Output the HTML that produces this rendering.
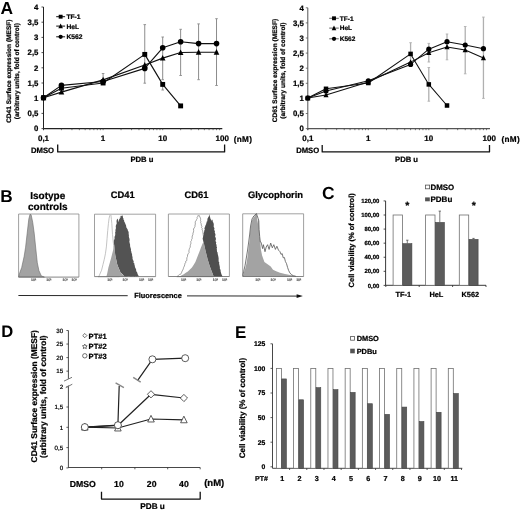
<!DOCTYPE html>
<html><head><meta charset="utf-8"><style>
html,body{margin:0;padding:0;background:#fff;}
svg{display:block;filter:grayscale(1);}
text{font-family:"Liberation Sans", sans-serif;text-rendering:geometricPrecision;}
</style></head><body>
<svg width="520" height="512" viewBox="0 0 520 512">
<rect width="520" height="512" fill="#fff"/>
<text x="0.50" y="13.81" font-size="17.4" font-weight="bold" text-anchor="start" fill="#000">A</text>
<line x1="43.50" y1="7.00" x2="43.50" y2="130.10" stroke="#222" stroke-width="1.0"/>
<line x1="43.50" y1="128.60" x2="222.30" y2="128.60" stroke="#222" stroke-width="1.2"/>
<line x1="41.50" y1="128.60" x2="43.50" y2="128.60" stroke="#222" stroke-width="0.8"/>
<text x="38.40" y="131.41" font-size="7.8" font-weight="bold" text-anchor="end" fill="#000" stroke="#000" stroke-width="0.22">0</text>
<line x1="41.50" y1="113.40" x2="43.50" y2="113.40" stroke="#222" stroke-width="0.8"/>
<text x="38.40" y="116.21" font-size="7.8" font-weight="bold" text-anchor="end" fill="#000" stroke="#000" stroke-width="0.22">0,5</text>
<line x1="41.50" y1="98.20" x2="43.50" y2="98.20" stroke="#222" stroke-width="0.8"/>
<text x="38.40" y="101.01" font-size="7.8" font-weight="bold" text-anchor="end" fill="#000" stroke="#000" stroke-width="0.22">1</text>
<line x1="41.50" y1="83.00" x2="43.50" y2="83.00" stroke="#222" stroke-width="0.8"/>
<text x="38.40" y="85.81" font-size="7.8" font-weight="bold" text-anchor="end" fill="#000" stroke="#000" stroke-width="0.22">1,5</text>
<line x1="41.50" y1="67.80" x2="43.50" y2="67.80" stroke="#222" stroke-width="0.8"/>
<text x="38.40" y="70.61" font-size="7.8" font-weight="bold" text-anchor="end" fill="#000" stroke="#000" stroke-width="0.22">2</text>
<line x1="41.50" y1="52.60" x2="43.50" y2="52.60" stroke="#222" stroke-width="0.8"/>
<text x="38.40" y="55.41" font-size="7.8" font-weight="bold" text-anchor="end" fill="#000" stroke="#000" stroke-width="0.22">2,5</text>
<line x1="41.50" y1="37.40" x2="43.50" y2="37.40" stroke="#222" stroke-width="0.8"/>
<text x="38.40" y="40.21" font-size="7.8" font-weight="bold" text-anchor="end" fill="#000" stroke="#000" stroke-width="0.22">3</text>
<line x1="41.50" y1="22.20" x2="43.50" y2="22.20" stroke="#222" stroke-width="0.8"/>
<text x="38.40" y="25.01" font-size="7.8" font-weight="bold" text-anchor="end" fill="#000" stroke="#000" stroke-width="0.22">3,5</text>
<line x1="41.50" y1="7.00" x2="43.50" y2="7.00" stroke="#222" stroke-width="0.8"/>
<text x="38.40" y="9.81" font-size="7.8" font-weight="bold" text-anchor="end" fill="#000" stroke="#000" stroke-width="0.22">4</text>
<line x1="43.50" y1="128.60" x2="43.50" y2="130.20" stroke="#444" stroke-width="0.7"/>
<line x1="61.44" y1="128.60" x2="61.44" y2="130.20" stroke="#444" stroke-width="0.7"/>
<line x1="71.94" y1="128.60" x2="71.94" y2="130.20" stroke="#444" stroke-width="0.7"/>
<line x1="79.38" y1="128.60" x2="79.38" y2="130.20" stroke="#444" stroke-width="0.7"/>
<line x1="85.16" y1="128.60" x2="85.16" y2="130.20" stroke="#444" stroke-width="0.7"/>
<line x1="89.88" y1="128.60" x2="89.88" y2="130.20" stroke="#444" stroke-width="0.7"/>
<line x1="93.87" y1="128.60" x2="93.87" y2="130.20" stroke="#444" stroke-width="0.7"/>
<line x1="97.32" y1="128.60" x2="97.32" y2="130.20" stroke="#444" stroke-width="0.7"/>
<line x1="100.37" y1="128.60" x2="100.37" y2="130.20" stroke="#444" stroke-width="0.7"/>
<line x1="103.10" y1="128.60" x2="103.10" y2="130.20" stroke="#444" stroke-width="0.7"/>
<line x1="121.04" y1="128.60" x2="121.04" y2="130.20" stroke="#444" stroke-width="0.7"/>
<line x1="131.54" y1="128.60" x2="131.54" y2="130.20" stroke="#444" stroke-width="0.7"/>
<line x1="138.98" y1="128.60" x2="138.98" y2="130.20" stroke="#444" stroke-width="0.7"/>
<line x1="144.76" y1="128.60" x2="144.76" y2="130.20" stroke="#444" stroke-width="0.7"/>
<line x1="149.48" y1="128.60" x2="149.48" y2="130.20" stroke="#444" stroke-width="0.7"/>
<line x1="153.47" y1="128.60" x2="153.47" y2="130.20" stroke="#444" stroke-width="0.7"/>
<line x1="156.92" y1="128.60" x2="156.92" y2="130.20" stroke="#444" stroke-width="0.7"/>
<line x1="159.97" y1="128.60" x2="159.97" y2="130.20" stroke="#444" stroke-width="0.7"/>
<line x1="162.70" y1="128.60" x2="162.70" y2="130.20" stroke="#444" stroke-width="0.7"/>
<line x1="180.64" y1="128.60" x2="180.64" y2="130.20" stroke="#444" stroke-width="0.7"/>
<line x1="191.14" y1="128.60" x2="191.14" y2="130.20" stroke="#444" stroke-width="0.7"/>
<line x1="198.58" y1="128.60" x2="198.58" y2="130.20" stroke="#444" stroke-width="0.7"/>
<line x1="204.36" y1="128.60" x2="204.36" y2="130.20" stroke="#444" stroke-width="0.7"/>
<line x1="209.08" y1="128.60" x2="209.08" y2="130.20" stroke="#444" stroke-width="0.7"/>
<line x1="213.07" y1="128.60" x2="213.07" y2="130.20" stroke="#444" stroke-width="0.7"/>
<line x1="216.52" y1="128.60" x2="216.52" y2="130.20" stroke="#444" stroke-width="0.7"/>
<line x1="219.57" y1="128.60" x2="219.57" y2="130.20" stroke="#444" stroke-width="0.7"/>
<line x1="103.10" y1="73.50" x2="103.10" y2="82.00" stroke="#8c8c8c" stroke-width="1.0"/>
<line x1="101.80" y1="73.50" x2="104.40" y2="73.50" stroke="#8c8c8c" stroke-width="0.9"/>
<line x1="101.80" y1="82.00" x2="104.40" y2="82.00" stroke="#8c8c8c" stroke-width="0.9"/>
<line x1="144.76" y1="24.60" x2="144.76" y2="83.20" stroke="#8c8c8c" stroke-width="1.0"/>
<line x1="143.46" y1="24.60" x2="146.06" y2="24.60" stroke="#8c8c8c" stroke-width="0.9"/>
<line x1="143.46" y1="83.20" x2="146.06" y2="83.20" stroke="#8c8c8c" stroke-width="0.9"/>
<line x1="162.70" y1="37.00" x2="162.70" y2="79.70" stroke="#8c8c8c" stroke-width="1.0"/>
<line x1="161.40" y1="37.00" x2="164.00" y2="37.00" stroke="#8c8c8c" stroke-width="0.9"/>
<line x1="161.40" y1="79.70" x2="164.00" y2="79.70" stroke="#8c8c8c" stroke-width="0.9"/>
<line x1="162.70" y1="84.00" x2="162.70" y2="90.00" stroke="#8c8c8c" stroke-width="1.0"/>
<line x1="161.40" y1="84.00" x2="164.00" y2="84.00" stroke="#8c8c8c" stroke-width="0.9"/>
<line x1="161.40" y1="90.00" x2="164.00" y2="90.00" stroke="#8c8c8c" stroke-width="0.9"/>
<line x1="180.64" y1="29.30" x2="180.64" y2="75.50" stroke="#8c8c8c" stroke-width="1.0"/>
<line x1="179.34" y1="29.30" x2="181.94" y2="29.30" stroke="#8c8c8c" stroke-width="0.9"/>
<line x1="179.34" y1="75.50" x2="181.94" y2="75.50" stroke="#8c8c8c" stroke-width="0.9"/>
<line x1="198.58" y1="23.90" x2="198.58" y2="79.70" stroke="#8c8c8c" stroke-width="1.0"/>
<line x1="197.28" y1="23.90" x2="199.88" y2="23.90" stroke="#8c8c8c" stroke-width="0.9"/>
<line x1="197.28" y1="79.70" x2="199.88" y2="79.70" stroke="#8c8c8c" stroke-width="0.9"/>
<line x1="216.52" y1="18.70" x2="216.52" y2="85.50" stroke="#8c8c8c" stroke-width="1.0"/>
<line x1="215.22" y1="18.70" x2="217.82" y2="18.70" stroke="#8c8c8c" stroke-width="0.9"/>
<line x1="215.22" y1="85.50" x2="217.82" y2="85.50" stroke="#8c8c8c" stroke-width="0.9"/>
<polyline points="43.50,97.70 61.44,88.20 103.10,83.00 144.76,54.40 162.70,84.40 180.64,105.90" stroke="#111" stroke-width="1.15" fill="none" stroke-linejoin="round"/>
<rect x="41.05" y="95.25" width="4.90" height="4.90" fill="#000" stroke="none" stroke-width="1"/>
<rect x="58.99" y="85.75" width="4.90" height="4.90" fill="#000" stroke="none" stroke-width="1"/>
<rect x="100.65" y="80.55" width="4.90" height="4.90" fill="#000" stroke="none" stroke-width="1"/>
<rect x="142.31" y="51.95" width="4.90" height="4.90" fill="#000" stroke="none" stroke-width="1"/>
<rect x="160.25" y="81.95" width="4.90" height="4.90" fill="#000" stroke="none" stroke-width="1"/>
<rect x="178.19" y="103.45" width="4.90" height="4.90" fill="#000" stroke="none" stroke-width="1"/>
<polyline points="43.50,97.70 61.44,92.10 103.10,79.90 144.76,65.00 162.70,58.10 180.64,52.50 198.58,52.20 216.52,52.20" stroke="#111" stroke-width="1.15" fill="none" stroke-linejoin="round"/>
<polygon points="43.50,94.62 46.30,100.22 40.70,100.22" fill="#000" stroke="none" stroke-width="1" stroke-linejoin="round"/>
<polygon points="61.44,89.02 64.24,94.62 58.64,94.62" fill="#000" stroke="none" stroke-width="1" stroke-linejoin="round"/>
<polygon points="103.10,76.82 105.90,82.42 100.30,82.42" fill="#000" stroke="none" stroke-width="1" stroke-linejoin="round"/>
<polygon points="144.76,61.92 147.56,67.52 141.96,67.52" fill="#000" stroke="none" stroke-width="1" stroke-linejoin="round"/>
<polygon points="162.70,55.02 165.50,60.62 159.90,60.62" fill="#000" stroke="none" stroke-width="1" stroke-linejoin="round"/>
<polygon points="180.64,49.42 183.44,55.02 177.84,55.02" fill="#000" stroke="none" stroke-width="1" stroke-linejoin="round"/>
<polygon points="198.58,49.12 201.38,54.72 195.78,54.72" fill="#000" stroke="none" stroke-width="1" stroke-linejoin="round"/>
<polygon points="216.52,49.12 219.32,54.72 213.72,54.72" fill="#000" stroke="none" stroke-width="1" stroke-linejoin="round"/>
<polyline points="43.50,97.70 61.44,85.40 103.10,81.50 144.76,68.40 162.70,47.80 180.64,41.70 198.58,43.60 216.52,43.60" stroke="#111" stroke-width="1.15" fill="none" stroke-linejoin="round"/>
<circle cx="43.50" cy="97.70" r="2.80" fill="#000" stroke="none" stroke-width="1"/>
<circle cx="61.44" cy="85.40" r="2.80" fill="#000" stroke="none" stroke-width="1"/>
<circle cx="103.10" cy="81.50" r="2.80" fill="#000" stroke="none" stroke-width="1"/>
<circle cx="144.76" cy="68.40" r="2.80" fill="#000" stroke="none" stroke-width="1"/>
<circle cx="162.70" cy="47.80" r="2.80" fill="#000" stroke="none" stroke-width="1"/>
<circle cx="180.64" cy="41.70" r="2.80" fill="#000" stroke="none" stroke-width="1"/>
<circle cx="198.58" cy="43.60" r="2.80" fill="#000" stroke="none" stroke-width="1"/>
<circle cx="216.52" cy="43.60" r="2.80" fill="#000" stroke="none" stroke-width="1"/>
<line x1="56.20" y1="16.70" x2="65.10" y2="16.70" stroke="#111" stroke-width="1"/>
<rect x="58.70" y="14.75" width="3.90" height="3.90" fill="#000" stroke="none" stroke-width="1"/>
<text x="66.40" y="19.11" font-size="6.7" font-weight="bold" text-anchor="start" fill="#000" stroke="#000" stroke-width="0.22">TF-1</text>
<line x1="56.20" y1="26.10" x2="65.10" y2="26.10" stroke="#111" stroke-width="1"/>
<polygon points="60.65,23.57 62.95,28.17 58.35,28.17" fill="#000" stroke="none" stroke-width="1" stroke-linejoin="round"/>
<text x="66.40" y="28.51" font-size="6.7" font-weight="bold" text-anchor="start" fill="#000" stroke="#000" stroke-width="0.22">HeL</text>
<line x1="56.20" y1="36.80" x2="65.10" y2="36.80" stroke="#111" stroke-width="1"/>
<circle cx="60.65" cy="36.80" r="2.15" fill="#000" stroke="none" stroke-width="1"/>
<text x="66.40" y="39.21" font-size="6.7" font-weight="bold" text-anchor="start" fill="#000" stroke="#000" stroke-width="0.22">K562</text>
<text x="11.30" y="71.20" font-size="6.55" font-weight="bold" text-anchor="middle" fill="#000" transform="rotate(-90 11.30 71.20)" stroke="#000" stroke-width="0.22">CD41 Surface expression (MESF)</text>
<text x="18.80" y="71.20" font-size="6.55" font-weight="bold" text-anchor="middle" fill="#000" transform="rotate(-90 18.80 71.20)" stroke="#000" stroke-width="0.22">(arbitrary units, fold of control)</text>
<text x="43.50" y="141.48" font-size="8.0" font-weight="bold" text-anchor="middle" fill="#000" stroke="#000" stroke-width="0.22">0,1</text>
<text x="103.10" y="141.48" font-size="8.0" font-weight="bold" text-anchor="middle" fill="#000" stroke="#000" stroke-width="0.22">1</text>
<text x="162.70" y="141.48" font-size="8.0" font-weight="bold" text-anchor="middle" fill="#000" stroke="#000" stroke-width="0.22">10</text>
<text x="222.30" y="141.48" font-size="8.0" font-weight="bold" text-anchor="middle" fill="#000" stroke="#000" stroke-width="0.22">100</text>
<text x="233.80" y="141.55" font-size="8.2" font-weight="bold" text-anchor="start" fill="#000" letter-spacing="0.3" stroke="#000" stroke-width="0.22">(nM)</text>
<text x="54.00" y="152.97" font-size="7.7" font-weight="bold" text-anchor="end" fill="#000" stroke="#000" stroke-width="0.22">DMSO</text>
<polyline points="57.70,144.60 57.70,151.90 224.60,151.90 224.60,144.60" stroke="#111" stroke-width="1.3" fill="none" stroke-linejoin="round"/>
<text x="130.40" y="161.57" font-size="7.7" font-weight="bold" text-anchor="start" fill="#000" stroke="#000" stroke-width="0.22">PDB u</text>
<line x1="307.80" y1="7.80" x2="307.80" y2="130.10" stroke="#555" stroke-width="1.0"/>
<line x1="307.80" y1="128.60" x2="490.00" y2="128.60" stroke="#555" stroke-width="1.2"/>
<line x1="305.80" y1="128.60" x2="307.80" y2="128.60" stroke="#555" stroke-width="0.8"/>
<text x="303.80" y="131.41" font-size="7.8" font-weight="bold" text-anchor="end" fill="#000" stroke="#000" stroke-width="0.22">0</text>
<line x1="305.80" y1="113.50" x2="307.80" y2="113.50" stroke="#555" stroke-width="0.8"/>
<text x="303.80" y="116.31" font-size="7.8" font-weight="bold" text-anchor="end" fill="#000" stroke="#000" stroke-width="0.22">0,5</text>
<line x1="305.80" y1="98.40" x2="307.80" y2="98.40" stroke="#555" stroke-width="0.8"/>
<text x="303.80" y="101.21" font-size="7.8" font-weight="bold" text-anchor="end" fill="#000" stroke="#000" stroke-width="0.22">1</text>
<line x1="305.80" y1="83.30" x2="307.80" y2="83.30" stroke="#555" stroke-width="0.8"/>
<text x="303.80" y="86.11" font-size="7.8" font-weight="bold" text-anchor="end" fill="#000" stroke="#000" stroke-width="0.22">1,5</text>
<line x1="305.80" y1="68.20" x2="307.80" y2="68.20" stroke="#555" stroke-width="0.8"/>
<text x="303.80" y="71.01" font-size="7.8" font-weight="bold" text-anchor="end" fill="#000" stroke="#000" stroke-width="0.22">2</text>
<line x1="305.80" y1="53.10" x2="307.80" y2="53.10" stroke="#555" stroke-width="0.8"/>
<text x="303.80" y="55.91" font-size="7.8" font-weight="bold" text-anchor="end" fill="#000" stroke="#000" stroke-width="0.22">2,5</text>
<line x1="305.80" y1="38.00" x2="307.80" y2="38.00" stroke="#555" stroke-width="0.8"/>
<text x="303.80" y="40.81" font-size="7.8" font-weight="bold" text-anchor="end" fill="#000" stroke="#000" stroke-width="0.22">3</text>
<line x1="305.80" y1="22.90" x2="307.80" y2="22.90" stroke="#555" stroke-width="0.8"/>
<text x="303.80" y="25.71" font-size="7.8" font-weight="bold" text-anchor="end" fill="#000" stroke="#000" stroke-width="0.22">3,5</text>
<line x1="305.80" y1="7.80" x2="307.80" y2="7.80" stroke="#555" stroke-width="0.8"/>
<text x="303.80" y="10.61" font-size="7.8" font-weight="bold" text-anchor="end" fill="#000" stroke="#000" stroke-width="0.22">4</text>
<line x1="307.80" y1="128.60" x2="307.80" y2="130.20" stroke="#444" stroke-width="0.7"/>
<line x1="326.01" y1="128.60" x2="326.01" y2="130.20" stroke="#444" stroke-width="0.7"/>
<line x1="336.67" y1="128.60" x2="336.67" y2="130.20" stroke="#444" stroke-width="0.7"/>
<line x1="344.22" y1="128.60" x2="344.22" y2="130.20" stroke="#444" stroke-width="0.7"/>
<line x1="350.09" y1="128.60" x2="350.09" y2="130.20" stroke="#444" stroke-width="0.7"/>
<line x1="354.88" y1="128.60" x2="354.88" y2="130.20" stroke="#444" stroke-width="0.7"/>
<line x1="358.93" y1="128.60" x2="358.93" y2="130.20" stroke="#444" stroke-width="0.7"/>
<line x1="362.44" y1="128.60" x2="362.44" y2="130.20" stroke="#444" stroke-width="0.7"/>
<line x1="365.53" y1="128.60" x2="365.53" y2="130.20" stroke="#444" stroke-width="0.7"/>
<line x1="368.30" y1="128.60" x2="368.30" y2="130.20" stroke="#444" stroke-width="0.7"/>
<line x1="386.51" y1="128.60" x2="386.51" y2="130.20" stroke="#444" stroke-width="0.7"/>
<line x1="397.17" y1="128.60" x2="397.17" y2="130.20" stroke="#444" stroke-width="0.7"/>
<line x1="404.72" y1="128.60" x2="404.72" y2="130.20" stroke="#444" stroke-width="0.7"/>
<line x1="410.59" y1="128.60" x2="410.59" y2="130.20" stroke="#444" stroke-width="0.7"/>
<line x1="415.38" y1="128.60" x2="415.38" y2="130.20" stroke="#444" stroke-width="0.7"/>
<line x1="419.43" y1="128.60" x2="419.43" y2="130.20" stroke="#444" stroke-width="0.7"/>
<line x1="422.94" y1="128.60" x2="422.94" y2="130.20" stroke="#444" stroke-width="0.7"/>
<line x1="426.03" y1="128.60" x2="426.03" y2="130.20" stroke="#444" stroke-width="0.7"/>
<line x1="428.80" y1="128.60" x2="428.80" y2="130.20" stroke="#444" stroke-width="0.7"/>
<line x1="447.01" y1="128.60" x2="447.01" y2="130.20" stroke="#444" stroke-width="0.7"/>
<line x1="457.67" y1="128.60" x2="457.67" y2="130.20" stroke="#444" stroke-width="0.7"/>
<line x1="465.22" y1="128.60" x2="465.22" y2="130.20" stroke="#444" stroke-width="0.7"/>
<line x1="471.09" y1="128.60" x2="471.09" y2="130.20" stroke="#444" stroke-width="0.7"/>
<line x1="475.88" y1="128.60" x2="475.88" y2="130.20" stroke="#444" stroke-width="0.7"/>
<line x1="479.93" y1="128.60" x2="479.93" y2="130.20" stroke="#444" stroke-width="0.7"/>
<line x1="483.44" y1="128.60" x2="483.44" y2="130.20" stroke="#444" stroke-width="0.7"/>
<line x1="486.53" y1="128.60" x2="486.53" y2="130.20" stroke="#444" stroke-width="0.7"/>
<line x1="410.59" y1="42.70" x2="410.59" y2="62.00" stroke="#b0b0b0" stroke-width="1.3"/>
<line x1="409.29" y1="42.70" x2="411.89" y2="42.70" stroke="#b0b0b0" stroke-width="0.9"/>
<line x1="409.29" y1="62.00" x2="411.89" y2="62.00" stroke="#b0b0b0" stroke-width="0.9"/>
<line x1="428.80" y1="43.40" x2="428.80" y2="62.00" stroke="#b0b0b0" stroke-width="1.3"/>
<line x1="427.50" y1="43.40" x2="430.10" y2="43.40" stroke="#b0b0b0" stroke-width="0.9"/>
<line x1="427.50" y1="62.00" x2="430.10" y2="62.00" stroke="#b0b0b0" stroke-width="0.9"/>
<line x1="428.80" y1="67.50" x2="428.80" y2="101.20" stroke="#b0b0b0" stroke-width="1.3"/>
<line x1="427.50" y1="67.50" x2="430.10" y2="67.50" stroke="#b0b0b0" stroke-width="0.9"/>
<line x1="427.50" y1="101.20" x2="430.10" y2="101.20" stroke="#b0b0b0" stroke-width="0.9"/>
<line x1="447.01" y1="34.00" x2="447.01" y2="59.80" stroke="#b0b0b0" stroke-width="1.3"/>
<line x1="445.71" y1="34.00" x2="448.31" y2="34.00" stroke="#b0b0b0" stroke-width="0.9"/>
<line x1="445.71" y1="59.80" x2="448.31" y2="59.80" stroke="#b0b0b0" stroke-width="0.9"/>
<line x1="465.22" y1="26.50" x2="465.22" y2="73.80" stroke="#b0b0b0" stroke-width="1.3"/>
<line x1="463.92" y1="26.50" x2="466.52" y2="26.50" stroke="#b0b0b0" stroke-width="0.9"/>
<line x1="463.92" y1="73.80" x2="466.52" y2="73.80" stroke="#b0b0b0" stroke-width="0.9"/>
<line x1="483.44" y1="17.10" x2="483.44" y2="98.40" stroke="#b0b0b0" stroke-width="1.3"/>
<line x1="482.14" y1="17.10" x2="484.74" y2="17.10" stroke="#b0b0b0" stroke-width="0.9"/>
<line x1="482.14" y1="98.40" x2="484.74" y2="98.40" stroke="#b0b0b0" stroke-width="0.9"/>
<polyline points="307.80,98.00 326.01,88.80 368.30,83.00 410.59,53.90 428.80,84.40 447.01,105.50" stroke="#111" stroke-width="1.05" fill="none" stroke-linejoin="round"/>
<rect x="305.55" y="95.75" width="4.51" height="4.51" fill="#000" stroke="none" stroke-width="1"/>
<rect x="323.76" y="86.55" width="4.51" height="4.51" fill="#000" stroke="none" stroke-width="1"/>
<rect x="366.05" y="80.75" width="4.51" height="4.51" fill="#000" stroke="none" stroke-width="1"/>
<rect x="408.33" y="51.65" width="4.51" height="4.51" fill="#000" stroke="none" stroke-width="1"/>
<rect x="426.55" y="82.15" width="4.51" height="4.51" fill="#000" stroke="none" stroke-width="1"/>
<rect x="444.76" y="103.25" width="4.51" height="4.51" fill="#000" stroke="none" stroke-width="1"/>
<polyline points="307.80,98.00 326.01,95.00 368.30,82.00 410.59,62.10 428.80,52.70 447.01,46.90 465.22,49.90 483.44,57.90" stroke="#111" stroke-width="1.05" fill="none" stroke-linejoin="round"/>
<polygon points="307.80,95.17 310.38,100.32 305.22,100.32" fill="#000" stroke="none" stroke-width="1" stroke-linejoin="round"/>
<polygon points="326.01,92.17 328.59,97.32 323.44,97.32" fill="#000" stroke="none" stroke-width="1" stroke-linejoin="round"/>
<polygon points="368.30,79.17 370.88,84.32 365.72,84.32" fill="#000" stroke="none" stroke-width="1" stroke-linejoin="round"/>
<polygon points="410.59,59.27 413.16,64.42 408.01,64.42" fill="#000" stroke="none" stroke-width="1" stroke-linejoin="round"/>
<polygon points="428.80,49.87 431.38,55.02 426.22,55.02" fill="#000" stroke="none" stroke-width="1" stroke-linejoin="round"/>
<polygon points="447.01,44.07 449.59,49.22 444.44,49.22" fill="#000" stroke="none" stroke-width="1" stroke-linejoin="round"/>
<polygon points="465.22,47.07 467.80,52.22 462.65,52.22" fill="#000" stroke="none" stroke-width="1" stroke-linejoin="round"/>
<polygon points="483.44,55.07 486.01,60.22 480.86,60.22" fill="#000" stroke="none" stroke-width="1" stroke-linejoin="round"/>
<polyline points="307.80,98.00 326.01,91.00 368.30,80.80 410.59,64.40 428.80,49.20 447.01,41.70 465.22,45.00 483.44,48.70" stroke="#111" stroke-width="1.05" fill="none" stroke-linejoin="round"/>
<circle cx="307.80" cy="98.00" r="2.58" fill="#000" stroke="none" stroke-width="1"/>
<circle cx="326.01" cy="91.00" r="2.58" fill="#000" stroke="none" stroke-width="1"/>
<circle cx="368.30" cy="80.80" r="2.58" fill="#000" stroke="none" stroke-width="1"/>
<circle cx="410.59" cy="64.40" r="2.58" fill="#000" stroke="none" stroke-width="1"/>
<circle cx="428.80" cy="49.20" r="2.58" fill="#000" stroke="none" stroke-width="1"/>
<circle cx="447.01" cy="41.70" r="2.58" fill="#000" stroke="none" stroke-width="1"/>
<circle cx="465.22" cy="45.00" r="2.58" fill="#000" stroke="none" stroke-width="1"/>
<circle cx="483.44" cy="48.70" r="2.58" fill="#000" stroke="none" stroke-width="1"/>
<line x1="329.20" y1="18.30" x2="338.80" y2="18.30" stroke="#666" stroke-width="1"/>
<rect x="332.05" y="16.35" width="3.90" height="3.90" fill="#000" stroke="none" stroke-width="1"/>
<text x="339.80" y="20.64" font-size="6.5" font-weight="bold" text-anchor="start" fill="#000" stroke="#000" stroke-width="0.22">TF-1</text>
<line x1="329.20" y1="28.10" x2="338.80" y2="28.10" stroke="#666" stroke-width="1"/>
<polygon points="334.00,25.57 336.30,30.17 331.70,30.17" fill="#000" stroke="none" stroke-width="1" stroke-linejoin="round"/>
<text x="339.80" y="30.44" font-size="6.5" font-weight="bold" text-anchor="start" fill="#000" stroke="#000" stroke-width="0.22">HeL</text>
<line x1="329.20" y1="38.80" x2="338.80" y2="38.80" stroke="#666" stroke-width="1"/>
<circle cx="334.00" cy="38.80" r="2.15" fill="#000" stroke="none" stroke-width="1"/>
<text x="339.80" y="41.14" font-size="6.5" font-weight="bold" text-anchor="start" fill="#000" stroke="#000" stroke-width="0.22">K562</text>
<text x="277.00" y="70.60" font-size="6.55" font-weight="bold" text-anchor="middle" fill="#000" transform="rotate(-90 277.00 70.60)" stroke="#000" stroke-width="0.22">CD61 Surface expression (MESF)</text>
<text x="284.90" y="70.60" font-size="6.55" font-weight="bold" text-anchor="middle" fill="#000" transform="rotate(-90 284.90 70.60)" stroke="#000" stroke-width="0.22">(arbitrary units, fold of control)</text>
<text x="307.80" y="141.48" font-size="8.0" font-weight="bold" text-anchor="middle" fill="#000" stroke="#000" stroke-width="0.22">0,1</text>
<text x="368.30" y="141.48" font-size="8.0" font-weight="bold" text-anchor="middle" fill="#000" stroke="#000" stroke-width="0.22">1</text>
<text x="428.80" y="141.48" font-size="8.0" font-weight="bold" text-anchor="middle" fill="#000" stroke="#000" stroke-width="0.22">10</text>
<text x="489.30" y="141.48" font-size="8.0" font-weight="bold" text-anchor="middle" fill="#000" stroke="#000" stroke-width="0.22">100</text>
<text x="501.50" y="141.55" font-size="8.2" font-weight="bold" text-anchor="start" fill="#000" letter-spacing="0.3" stroke="#000" stroke-width="0.22">(nM)</text>
<text x="319.20" y="152.97" font-size="7.7" font-weight="bold" text-anchor="end" fill="#000" stroke="#000" stroke-width="0.22">DMSO</text>
<polyline points="322.20,145.00 322.20,151.90 489.50,151.90 489.50,145.00" stroke="#111" stroke-width="1.3" fill="none" stroke-linejoin="round"/>
<text x="395.00" y="161.67" font-size="7.7" font-weight="bold" text-anchor="start" fill="#000" stroke="#000" stroke-width="0.22">PDB u</text>
<text x="0.30" y="201.69" font-size="17.2" font-weight="bold" text-anchor="start" fill="#000">B</text>
<line x1="18.60" y1="214.00" x2="78.90" y2="214.00" stroke="#8a8a8a" stroke-width="0.8"/>
<line x1="18.60" y1="214.00" x2="18.60" y2="277.10" stroke="#888" stroke-width="0.8"/>
<line x1="78.90" y1="214.00" x2="78.90" y2="277.10" stroke="#888" stroke-width="0.8"/>
<text x="33.68" y="281.10" font-size="3.6" font-weight="normal" text-anchor="middle" fill="#555" stroke="#555" stroke-width="0.22">10¹</text>
<text x="48.75" y="281.10" font-size="3.6" font-weight="normal" text-anchor="middle" fill="#555" stroke="#555" stroke-width="0.22">10¹</text>
<text x="65.03" y="281.10" font-size="3.6" font-weight="normal" text-anchor="middle" fill="#555" stroke="#555" stroke-width="0.22">10¹</text>
<text x="74.08" y="281.10" font-size="3.6" font-weight="normal" text-anchor="middle" fill="#555" stroke="#555" stroke-width="0.22">10¹</text>
<line x1="94.50" y1="214.20" x2="155.60" y2="214.20" stroke="#8a8a8a" stroke-width="0.8"/>
<line x1="94.50" y1="214.20" x2="94.50" y2="276.60" stroke="#888" stroke-width="0.8"/>
<line x1="155.60" y1="214.20" x2="155.60" y2="276.60" stroke="#888" stroke-width="0.8"/>
<text x="109.78" y="280.60" font-size="3.6" font-weight="normal" text-anchor="middle" fill="#555" stroke="#555" stroke-width="0.22">10¹</text>
<text x="125.05" y="280.60" font-size="3.6" font-weight="normal" text-anchor="middle" fill="#555" stroke="#555" stroke-width="0.22">10¹</text>
<text x="141.55" y="280.60" font-size="3.6" font-weight="normal" text-anchor="middle" fill="#555" stroke="#555" stroke-width="0.22">10¹</text>
<text x="150.71" y="280.60" font-size="3.6" font-weight="normal" text-anchor="middle" fill="#555" stroke="#555" stroke-width="0.22">10¹</text>
<line x1="168.40" y1="214.00" x2="229.40" y2="214.00" stroke="#8a8a8a" stroke-width="0.8"/>
<line x1="168.40" y1="214.00" x2="168.40" y2="276.50" stroke="#888" stroke-width="0.8"/>
<line x1="229.40" y1="214.00" x2="229.40" y2="276.50" stroke="#888" stroke-width="0.8"/>
<text x="183.65" y="280.50" font-size="3.6" font-weight="normal" text-anchor="middle" fill="#555" stroke="#555" stroke-width="0.22">10¹</text>
<text x="198.90" y="280.50" font-size="3.6" font-weight="normal" text-anchor="middle" fill="#555" stroke="#555" stroke-width="0.22">10¹</text>
<text x="215.37" y="280.50" font-size="3.6" font-weight="normal" text-anchor="middle" fill="#555" stroke="#555" stroke-width="0.22">10¹</text>
<text x="224.52" y="280.50" font-size="3.6" font-weight="normal" text-anchor="middle" fill="#555" stroke="#555" stroke-width="0.22">10¹</text>
<line x1="242.70" y1="213.80" x2="303.60" y2="213.80" stroke="#8a8a8a" stroke-width="0.8"/>
<line x1="242.70" y1="213.80" x2="242.70" y2="276.50" stroke="#888" stroke-width="0.8"/>
<line x1="303.60" y1="213.80" x2="303.60" y2="276.50" stroke="#888" stroke-width="0.8"/>
<text x="257.93" y="280.50" font-size="3.6" font-weight="normal" text-anchor="middle" fill="#555" stroke="#555" stroke-width="0.22">10¹</text>
<text x="273.15" y="280.50" font-size="3.6" font-weight="normal" text-anchor="middle" fill="#555" stroke="#555" stroke-width="0.22">10¹</text>
<text x="289.59" y="280.50" font-size="3.6" font-weight="normal" text-anchor="middle" fill="#555" stroke="#555" stroke-width="0.22">10¹</text>
<text x="298.73" y="280.50" font-size="3.6" font-weight="normal" text-anchor="middle" fill="#555" stroke="#555" stroke-width="0.22">10¹</text>
<text x="47.80" y="198.80" font-size="10" font-weight="bold" text-anchor="middle" fill="#000" stroke="#000" stroke-width="0.22">Isotype</text>
<text x="47.80" y="209.70" font-size="10" font-weight="bold" text-anchor="middle" fill="#000" stroke="#000" stroke-width="0.22">controls</text>
<text x="122.80" y="198.48" font-size="9.4" font-weight="bold" text-anchor="middle" fill="#000" stroke="#000" stroke-width="0.22">CD41</text>
<text x="196.40" y="198.48" font-size="9.4" font-weight="bold" text-anchor="middle" fill="#000" stroke="#000" stroke-width="0.22">CD61</text>
<text x="275.50" y="198.48" font-size="9.4" font-weight="bold" text-anchor="middle" fill="#000" stroke="#000" stroke-width="0.22">Glycophorin</text>
<polygon points="18.60,277.10 19.40,273.80 21.70,267.50 24.10,256.60 25.60,247.20 27.20,233.10 28.80,219.10 30.00,214.30 31.10,214.70 32.70,222.20 34.20,233.10 35.80,248.80 37.30,262.80 38.90,270.60 41.30,275.90 44.40,277.10" fill="#a3a3a3" stroke="#6a6a6a" stroke-width="0.6" stroke-linejoin="round"/>
<polygon points="98.16,276.76 98.84,276.48 101.58,270.19 102.94,264.72 104.31,259.25 105.41,253.78 106.36,246.94 107.05,238.73 107.73,230.52 108.42,223.68 109.10,218.21 109.78,215.47 110.19,214.51 110.88,214.79 111.43,219.58 111.84,223.68 112.52,234.62 113.61,245.57 114.57,255.14 115.94,264.72 117.99,272.93 119.36,276.76" fill="#fff" stroke="#b5b5b5" stroke-width="0.8" stroke-linejoin="round"/>
<polygon points="113.89,242.83 113.88,241.67 113.88,240.52 114.30,239.41 114.66,238.24 114.44,236.95 115.04,235.83 115.26,234.62 115.26,233.47 115.13,232.31 115.60,231.20 115.34,230.03 115.77,228.92 115.94,227.78 115.74,226.65 115.89,225.55 116.29,224.49 116.75,223.44 116.62,222.31 116.50,221.07 116.75,219.89 117.24,218.74 117.31,217.52 117.31,218.66 117.99,219.58 118.20,220.96 118.54,222.31 118.73,220.93 119.09,219.58 119.79,218.67 119.77,217.52 120.45,218.21 120.37,216.77 121.00,215.47 121.69,216.16 122.37,214.51 122.27,215.57 122.90,216.49 122.92,217.52 123.47,218.48 123.46,219.58 124.16,220.49 124.28,221.63 124.83,222.59 125.52,224.36 126.00,225.34 126.20,226.42 126.38,227.54 127.02,228.47 127.67,229.40 127.84,230.52 128.66,231.89 128.65,232.99 128.66,234.08 128.93,235.17 128.84,236.27 128.94,237.36 129.42,238.41 129.56,239.50 129.58,240.61 129.34,241.76 129.62,242.83 129.85,243.85 130.11,244.86 130.07,245.92 130.30,246.94 130.61,248.12 131.01,249.29 130.89,250.58 131.40,251.72 131.48,252.95 132.08,254.08 132.06,255.33 132.36,256.51 132.58,257.54 132.54,258.63 132.90,259.63 133.31,260.62 133.75,261.60 133.49,262.77 134.43,263.61 134.41,264.72 134.83,265.84 134.94,267.06 135.50,268.14 136.09,269.20 136.15,270.42 136.46,271.56 137.34,272.64 137.55,274.02 138.51,275.66 139.61,276.76 138.55,276.62 137.50,276.55 136.44,276.70 135.38,276.46 134.33,276.91 133.27,276.60 132.22,276.68 131.16,276.69 130.11,276.79 129.05,276.49 128.00,276.40 126.94,276.78 125.89,276.63 124.83,276.76 123.77,276.25 123.30,275.11 122.45,274.37 121.82,273.41 120.73,272.93 117.31,264.72 115.26,255.14" fill="#535353" stroke="none" stroke-width="1" stroke-linejoin="round"/>
<polygon points="106.36,276.76 107.32,272.93 108.42,267.46 109.78,262.67 111.15,257.88 112.52,252.41 113.61,248.30 114.16,244.20 115.26,255.14 117.31,264.72 120.73,272.93 124.83,276.76" fill="#a3a3a3" stroke="none" stroke-width="1" stroke-linejoin="round"/>
<polygon points="176.93,276.68 178.57,275.32 179.47,274.49 180.66,274.23 181.26,273.23 181.76,272.18 182.09,271.08 182.71,270.13 183.31,268.80 183.67,267.39 184.36,266.08 184.76,264.66 184.85,263.39 185.86,262.61 185.61,261.31 186.89,260.44 186.81,259.19 186.88,257.76 187.50,256.46 187.53,255.02 188.18,253.73 189.10,252.51 188.86,250.99 189.17,249.62 189.55,248.26 190.28,247.14 190.23,245.80 190.43,244.79 190.85,243.83 190.91,242.80 190.73,241.57 191.53,240.55 191.60,239.38 192.26,238.33 192.08,237.11 192.28,235.96 192.90,234.67 192.96,233.23 193.50,231.91 193.65,230.50 193.48,229.00 194.33,227.76 194.97,226.47 195.01,225.03 195.36,224.03 195.26,222.93 195.18,221.83 195.97,220.93 196.52,219.57 197.21,218.65 197.06,217.52 197.61,216.56 198.16,215.47 198.70,216.15 199.11,215.47 199.80,216.83 200.48,218.20 200.65,219.33 200.49,220.51 200.89,221.62 200.58,222.70 201.16,223.66 201.25,225.09 201.85,226.40 201.54,227.58 202.35,228.56 202.06,229.74 202.68,230.76 202.80,231.86 203.62,237.33 204.17,242.80 205.95,250.99 207.99,259.19 210.73,267.39 213.46,274.23 213.83,276.68" fill="#fff" stroke="#8c8c8c" stroke-width="0.8" stroke-linejoin="round"/>
<polygon points="202.62,238.70 202.91,237.62 203.20,236.54 203.43,235.46 203.74,234.38 203.58,233.23 204.11,231.91 204.26,230.50 204.82,229.42 204.35,228.15 204.95,227.08 205.26,226.05 205.63,225.03 206.24,224.10 206.29,223.01 206.76,222.04 206.72,220.93 207.27,222.30 207.06,221.24 207.45,220.25 207.37,219.20 207.68,218.20 208.63,216.83 209.18,215.47 209.45,214.10 209.69,215.47 210.00,216.83 210.22,217.87 210.55,218.88 211.20,219.81 211.09,220.93 211.64,220.25 212.19,219.57 212.68,220.53 212.73,221.62 213.14,222.30 213.66,223.62 213.83,225.03 213.63,226.17 213.89,227.24 214.51,228.28 214.14,229.43 214.51,230.50 214.96,231.60 214.74,232.79 215.28,233.87 215.54,235.00 215.01,236.23 215.47,237.33 215.83,238.32 215.97,239.35 215.49,240.46 215.72,241.47 216.32,242.43 215.92,243.53 216.39,244.51 216.56,245.53 216.56,246.57 217.07,247.55 216.62,248.65 216.96,249.65 216.87,250.70 217.07,251.72 217.68,252.68 217.65,253.73 217.92,254.85 218.24,255.97 218.41,257.10 218.64,258.23 218.61,259.40 218.61,260.56 218.72,261.67 219.38,262.68 219.04,263.86 219.50,264.91 219.57,266.03 219.93,267.09 219.75,268.26 220.24,269.30 220.59,270.37 220.66,271.49 221.02,272.72 221.34,273.95 222.03,275.59 222.71,276.68 213.83,276.68 211.78,271.49 209.73,266.03 207.68,259.19 205.63,250.99 203.58,242.11" fill="#4f4f4f" stroke="none" stroke-width="1" stroke-linejoin="round"/>
<polygon points="179.66,276.68 181.71,275.32 183.76,274.23 185.81,272.86 187.86,271.49 189.91,269.58 191.96,267.39 193.74,264.66 195.38,261.93 196.75,258.51 198.11,255.09 199.21,252.36 200.16,249.63 200.98,247.58 201.80,245.53 202.62,243.48 203.58,241.70 205.63,250.99 207.68,259.19 209.73,266.03 211.78,271.49 213.83,276.68" fill="#a3a3a3" stroke="none" stroke-width="1" stroke-linejoin="round"/>
<polygon points="243.00,276.40 243.00,274.40 243.70,271.25 245.00,265.80 246.30,258.00 247.60,250.00 248.70,242.00 249.60,235.00 250.60,226.00 252.00,219.00 253.80,216.00 256.50,213.60 257.10,215.50 258.10,218.40 258.80,220.80 259.10,229.60 259.70,236.60 260.30,242.00 261.10,242.30 262.60,248.60 263.40,244.70 265.00,251.70 266.20,247.00 267.60,244.70 269.10,249.40 270.70,243.10 272.30,247.80 273.80,244.70 275.40,249.40 276.90,246.25 278.50,250.20 280.00,251.70 281.00,254.40 282.20,253.60 283.20,257.80 284.40,257.50 285.40,261.50 286.50,263.60 287.60,267.50 288.60,270.40 289.80,272.80 291.40,274.60 293.50,275.80 296.00,276.40" fill="#fff" stroke="none" stroke-width="1" stroke-linejoin="round"/>
<polygon points="243.00,276.40 243.20,275.50 244.00,272.00 245.40,268.10 246.50,263.40 247.70,255.60 248.60,247.80 249.30,242.30 249.60,240.00 250.20,231.30 251.40,223.70 252.10,220.20 253.00,218.80 253.80,217.00 254.50,216.50 255.50,214.50 256.50,213.80 257.10,215.50 257.40,223.70 258.10,218.40 258.80,220.80 259.10,229.60 259.70,236.60 260.30,242.00 260.90,249.40 262.10,255.60 264.40,261.90 267.60,264.20 270.70,266.60 273.00,269.70 276.20,271.25 280.00,272.80 285.00,274.00 290.00,275.00 296.00,276.00 300.00,276.40" fill="#a3a3a3" stroke="none" stroke-width="1" stroke-linejoin="round"/>
<polyline points="243.00,276.40 243.00,274.40 243.70,271.25 245.00,265.80 246.30,258.00 247.60,250.00 248.70,242.00 249.60,235.00 250.60,226.00 252.00,219.00 253.80,216.00 256.50,213.60 257.10,215.50 258.10,218.40 258.80,220.80 259.10,229.60 259.70,236.60 260.30,242.00 261.10,242.30 262.60,248.60 263.40,244.70 265.00,251.70 266.20,247.00 267.60,244.70 269.10,249.40 270.70,243.10 272.30,247.80 273.80,244.70 275.40,249.40 276.90,246.25 278.50,250.20 280.00,251.70 281.00,254.40 282.20,253.60 283.20,257.80 284.40,257.50 285.40,261.50 286.50,263.60 287.60,267.50 288.60,270.40 289.80,272.80 291.40,274.60 293.50,275.80 296.00,276.40" fill="none" stroke="#555" stroke-width="0.8" stroke-linejoin="round"/>
<line x1="18.60" y1="277.10" x2="78.90" y2="277.10" stroke="#666" stroke-width="0.8"/>
<line x1="94.50" y1="276.60" x2="155.60" y2="276.60" stroke="#666" stroke-width="0.8"/>
<line x1="168.40" y1="276.50" x2="229.40" y2="276.50" stroke="#666" stroke-width="0.8"/>
<line x1="242.70" y1="276.50" x2="303.60" y2="276.50" stroke="#666" stroke-width="0.8"/>
<line x1="18.40" y1="295.50" x2="127.70" y2="295.70" stroke="#111" stroke-width="0.9"/>
<text x="134.20" y="298.16" font-size="7.4" font-weight="bold" text-anchor="start" fill="#000" stroke="#000" stroke-width="0.22">Fluorescence</text>
<line x1="187.00" y1="295.90" x2="298.00" y2="296.10" stroke="#111" stroke-width="0.9"/>
<polygon points="302.90,296.10 296.60,294.20 296.60,298.00" fill="#111" stroke="none" stroke-width="1" stroke-linejoin="round"/>
<text x="321.90" y="199.26" font-size="17.4" font-weight="bold" text-anchor="start" fill="#000">C</text>
<line x1="385.60" y1="200.92" x2="385.60" y2="285.40" stroke="#222" stroke-width="0.9"/>
<line x1="385.60" y1="285.30" x2="486.00" y2="285.30" stroke="#222" stroke-width="0.9"/>
<line x1="383.60" y1="285.40" x2="385.60" y2="285.40" stroke="#222" stroke-width="0.8"/>
<text x="379.30" y="287.54" font-size="5.95" font-weight="bold" text-anchor="end" fill="#000" stroke="#000" stroke-width="0.22">0,00</text>
<line x1="383.60" y1="271.32" x2="385.60" y2="271.32" stroke="#222" stroke-width="0.8"/>
<text x="379.30" y="273.46" font-size="5.95" font-weight="bold" text-anchor="end" fill="#000" stroke="#000" stroke-width="0.22">20,00</text>
<line x1="383.60" y1="257.24" x2="385.60" y2="257.24" stroke="#222" stroke-width="0.8"/>
<text x="379.30" y="259.38" font-size="5.95" font-weight="bold" text-anchor="end" fill="#000" stroke="#000" stroke-width="0.22">40,00</text>
<line x1="383.60" y1="243.16" x2="385.60" y2="243.16" stroke="#222" stroke-width="0.8"/>
<text x="379.30" y="245.30" font-size="5.95" font-weight="bold" text-anchor="end" fill="#000" stroke="#000" stroke-width="0.22">60,00</text>
<line x1="383.60" y1="229.08" x2="385.60" y2="229.08" stroke="#222" stroke-width="0.8"/>
<text x="379.30" y="231.22" font-size="5.95" font-weight="bold" text-anchor="end" fill="#000" stroke="#000" stroke-width="0.22">80,00</text>
<line x1="383.60" y1="215.00" x2="385.60" y2="215.00" stroke="#222" stroke-width="0.8"/>
<text x="379.30" y="217.14" font-size="5.95" font-weight="bold" text-anchor="end" fill="#000" stroke="#000" stroke-width="0.22">100,00</text>
<line x1="383.60" y1="200.92" x2="385.60" y2="200.92" stroke="#222" stroke-width="0.8"/>
<text x="379.30" y="203.06" font-size="5.95" font-weight="bold" text-anchor="end" fill="#000" stroke="#000" stroke-width="0.22">120,00</text>
<line x1="385.80" y1="285.30" x2="385.80" y2="287.00" stroke="#222" stroke-width="0.8"/>
<line x1="419.20" y1="285.30" x2="419.20" y2="287.00" stroke="#222" stroke-width="0.8"/>
<line x1="452.60" y1="285.30" x2="452.60" y2="287.00" stroke="#222" stroke-width="0.8"/>
<line x1="486.00" y1="285.30" x2="486.00" y2="287.00" stroke="#222" stroke-width="0.8"/>
<text x="354.50" y="240.30" font-size="7.5" font-weight="bold" text-anchor="middle" fill="#000" transform="rotate(-90 354.50 240.30)" stroke="#000" stroke-width="0.22">Cell viability (% of control)</text>
<line x1="407.30" y1="240.20" x2="407.30" y2="243.37" stroke="#444" stroke-width="0.7"/>
<line x1="406.10" y1="240.20" x2="408.50" y2="240.20" stroke="#444" stroke-width="0.7"/>
<rect x="393.10" y="215.00" width="9.40" height="70.30" fill="#fff" stroke="#707070" stroke-width="0.8"/>
<rect x="402.80" y="243.67" width="9.10" height="41.63" fill="#5c5c5c" stroke="#454545" stroke-width="0.6"/>
<line x1="439.80" y1="211.10" x2="439.80" y2="222.11" stroke="#444" stroke-width="0.7"/>
<line x1="438.60" y1="211.10" x2="441.00" y2="211.10" stroke="#444" stroke-width="0.7"/>
<rect x="425.60" y="215.00" width="9.40" height="70.30" fill="#fff" stroke="#707070" stroke-width="0.8"/>
<rect x="435.30" y="222.41" width="9.10" height="62.89" fill="#5c5c5c" stroke="#454545" stroke-width="0.6"/>
<line x1="473.50" y1="238.40" x2="473.50" y2="239.08" stroke="#444" stroke-width="0.7"/>
<line x1="472.30" y1="238.40" x2="474.70" y2="238.40" stroke="#444" stroke-width="0.7"/>
<rect x="459.30" y="215.00" width="9.40" height="70.30" fill="#fff" stroke="#707070" stroke-width="0.8"/>
<rect x="469.00" y="239.38" width="9.10" height="45.92" fill="#5c5c5c" stroke="#454545" stroke-width="0.6"/>
<text x="407.30" y="209.18" font-size="10.5" font-weight="bold" text-anchor="middle" fill="#000" stroke="#000" stroke-width="0.22">*</text>
<text x="473.80" y="209.18" font-size="10.5" font-weight="bold" text-anchor="middle" fill="#000" stroke="#000" stroke-width="0.22">*</text>
<rect x="425.50" y="185.10" width="4.10" height="3.70" fill="#fff" stroke="#555" stroke-width="0.8"/>
<rect x="425.10" y="197.40" width="4.70" height="3.90" fill="#555" stroke="none" stroke-width="1"/>
<text x="430.50" y="189.74" font-size="7.9" font-weight="bold" text-anchor="start" fill="#000" stroke="#000" stroke-width="0.22">DMSO</text>
<text x="430.50" y="202.48" font-size="8.0" font-weight="bold" text-anchor="start" fill="#000" stroke="#000" stroke-width="0.22">PDBu</text>
<text x="403.30" y="296.56" font-size="7.4" font-weight="bold" text-anchor="middle" fill="#000" stroke="#000" stroke-width="0.22">TF-1</text>
<text x="436.40" y="296.56" font-size="7.4" font-weight="bold" text-anchor="middle" fill="#000" stroke="#000" stroke-width="0.22">HeL</text>
<text x="470.30" y="296.56" font-size="7.4" font-weight="bold" text-anchor="middle" fill="#000" stroke="#000" stroke-width="0.22">K562</text>
<text x="1.20" y="336.98" font-size="16.6" font-weight="bold" text-anchor="start" fill="#000">D</text>
<line x1="68.40" y1="330.50" x2="68.40" y2="379.00" stroke="#333" stroke-width="0.9"/>
<line x1="68.40" y1="385.50" x2="68.40" y2="467.90" stroke="#333" stroke-width="0.9"/>
<line x1="68.40" y1="467.50" x2="200.20" y2="467.50" stroke="#333" stroke-width="0.9"/>
<line x1="66.40" y1="467.90" x2="68.40" y2="467.90" stroke="#333" stroke-width="0.8"/>
<text x="63.20" y="470.13" font-size="6.2" font-weight="normal" text-anchor="end" fill="#000" stroke="#000" stroke-width="0.22">0</text>
<line x1="66.40" y1="447.60" x2="68.40" y2="447.60" stroke="#333" stroke-width="0.8"/>
<text x="63.20" y="449.83" font-size="6.2" font-weight="normal" text-anchor="end" fill="#000" stroke="#000" stroke-width="0.22">0,5</text>
<line x1="66.40" y1="427.30" x2="68.40" y2="427.30" stroke="#333" stroke-width="0.8"/>
<text x="63.20" y="429.53" font-size="6.2" font-weight="normal" text-anchor="end" fill="#000" stroke="#000" stroke-width="0.22">1</text>
<line x1="66.40" y1="407.00" x2="68.40" y2="407.00" stroke="#333" stroke-width="0.8"/>
<text x="63.20" y="409.23" font-size="6.2" font-weight="normal" text-anchor="end" fill="#000" stroke="#000" stroke-width="0.22">1,5</text>
<line x1="66.40" y1="386.70" x2="68.40" y2="386.70" stroke="#333" stroke-width="0.8"/>
<text x="63.20" y="388.93" font-size="6.2" font-weight="normal" text-anchor="end" fill="#000" stroke="#000" stroke-width="0.22">2</text>
<line x1="66.40" y1="371.15" x2="68.40" y2="371.15" stroke="#333" stroke-width="0.8"/>
<text x="63.20" y="373.38" font-size="6.2" font-weight="normal" text-anchor="end" fill="#000" stroke="#000" stroke-width="0.22">15</text>
<line x1="66.40" y1="357.60" x2="68.40" y2="357.60" stroke="#333" stroke-width="0.8"/>
<text x="63.20" y="359.83" font-size="6.2" font-weight="normal" text-anchor="end" fill="#000" stroke="#000" stroke-width="0.22">20</text>
<line x1="66.40" y1="344.05" x2="68.40" y2="344.05" stroke="#333" stroke-width="0.8"/>
<text x="63.20" y="346.28" font-size="6.2" font-weight="normal" text-anchor="end" fill="#000" stroke="#000" stroke-width="0.22">25</text>
<line x1="66.40" y1="330.50" x2="68.40" y2="330.50" stroke="#333" stroke-width="0.8"/>
<text x="63.20" y="332.73" font-size="6.2" font-weight="normal" text-anchor="end" fill="#000" stroke="#000" stroke-width="0.22">30</text>
<line x1="101.70" y1="467.50" x2="101.70" y2="469.30" stroke="#333" stroke-width="0.8"/>
<line x1="134.90" y1="467.50" x2="134.90" y2="469.30" stroke="#333" stroke-width="0.8"/>
<line x1="167.70" y1="467.50" x2="167.70" y2="469.30" stroke="#333" stroke-width="0.8"/>
<line x1="200.20" y1="467.50" x2="200.20" y2="469.30" stroke="#333" stroke-width="0.8"/>
<line x1="64.00" y1="381.10" x2="72.00" y2="377.30" stroke="#777" stroke-width="1.0"/>
<line x1="65.70" y1="387.70" x2="72.30" y2="384.20" stroke="#777" stroke-width="1.0"/>
<polyline points="84.80,427.10 117.90,428.00 151.00,419.00 183.90,419.80" stroke="#222" stroke-width="1.2" fill="none" stroke-linejoin="round"/>
<polyline points="84.80,427.10 117.90,425.50 151.00,394.30 183.90,398.00" stroke="#222" stroke-width="1.2" fill="none" stroke-linejoin="round"/>
<polyline points="84.80,427.10 117.90,425.20 119.20,386.00" stroke="#222" stroke-width="1.2" fill="none" stroke-linejoin="round"/>
<polyline points="137.50,380.60 152.40,359.30 185.20,358.20" stroke="#222" stroke-width="1.2" fill="none" stroke-linejoin="round"/>
<line x1="115.60" y1="382.80" x2="123.90" y2="387.70" stroke="#888" stroke-width="1.4"/>
<line x1="133.20" y1="377.30" x2="140.70" y2="382.20" stroke="#888" stroke-width="1.4"/>
<polygon points="84.80,423.47 88.10,430.07 81.50,430.07" fill="#fff" stroke="#333" stroke-width="0.8" stroke-linejoin="round"/>
<polygon points="117.90,424.37 121.20,430.97 114.60,430.97" fill="#fff" stroke="#333" stroke-width="0.8" stroke-linejoin="round"/>
<polygon points="151.00,415.37 154.30,421.97 147.70,421.97" fill="#fff" stroke="#333" stroke-width="0.8" stroke-linejoin="round"/>
<polygon points="183.90,416.17 187.20,422.77 180.60,422.77" fill="#fff" stroke="#333" stroke-width="0.8" stroke-linejoin="round"/>
<polygon points="84.80,423.50 88.40,427.10 84.80,430.70 81.20,427.10" fill="#fff" stroke="#333" stroke-width="0.8" stroke-linejoin="round"/>
<polygon points="117.90,421.90 121.50,425.50 117.90,429.10 114.30,425.50" fill="#fff" stroke="#333" stroke-width="0.8" stroke-linejoin="round"/>
<polygon points="151.00,390.70 154.60,394.30 151.00,397.90 147.40,394.30" fill="#fff" stroke="#333" stroke-width="0.8" stroke-linejoin="round"/>
<polygon points="183.90,394.40 187.50,398.00 183.90,401.60 180.30,398.00" fill="#fff" stroke="#333" stroke-width="0.8" stroke-linejoin="round"/>
<circle cx="84.80" cy="427.10" r="3.50" fill="#fff" stroke="#333" stroke-width="0.8"/>
<circle cx="117.90" cy="425.20" r="3.50" fill="#fff" stroke="#333" stroke-width="0.8"/>
<circle cx="152.40" cy="359.30" r="3.50" fill="#fff" stroke="#333" stroke-width="0.8"/>
<circle cx="185.20" cy="358.20" r="3.50" fill="#fff" stroke="#333" stroke-width="0.8"/>
<polygon points="84.80,333.50 86.90,335.60 84.80,337.70 82.70,335.60" fill="#fff" stroke="#333" stroke-width="0.7" stroke-linejoin="round"/>
<polygon points="84.80,344.10 85.51,345.63 87.18,345.83 85.94,346.97 86.27,348.62 84.80,347.80 83.33,348.62 83.66,346.97 82.42,345.83 84.09,345.63" fill="#fff" stroke="#333" stroke-width="0.7" stroke-linejoin="round"/>
<circle cx="84.80" cy="355.80" r="2.20" fill="#fff" stroke="#333" stroke-width="0.7"/>
<text x="88.60" y="338.64" font-size="7.6" font-weight="bold" text-anchor="start" fill="#000" stroke="#000" stroke-width="0.22">PT#1</text>
<text x="88.60" y="349.04" font-size="7.6" font-weight="bold" text-anchor="start" fill="#000" stroke="#000" stroke-width="0.22">PT#2</text>
<text x="88.60" y="358.64" font-size="7.6" font-weight="bold" text-anchor="start" fill="#000" stroke="#000" stroke-width="0.22">PT#3</text>
<text x="36.70" y="396.30" font-size="8.4" font-weight="bold" text-anchor="middle" fill="#000" transform="rotate(-90 36.70 396.30)" stroke="#000" stroke-width="0.22">CD41 Surface expression (MESF)</text>
<text x="46.10" y="396.70" font-size="8.35" font-weight="bold" text-anchor="middle" fill="#000" transform="rotate(-90 46.10 396.70)" stroke="#000" stroke-width="0.22">(arbitrary units, fold of control)</text>
<text x="82.70" y="487.33" font-size="8.7" font-weight="bold" text-anchor="middle" fill="#000" stroke="#000" stroke-width="0.22">DMSO</text>
<text x="118.90" y="487.33" font-size="8.7" font-weight="bold" text-anchor="middle" fill="#000" stroke="#000" stroke-width="0.22">10</text>
<text x="151.70" y="487.33" font-size="8.7" font-weight="bold" text-anchor="middle" fill="#000" stroke="#000" stroke-width="0.22">20</text>
<text x="183.90" y="487.33" font-size="8.7" font-weight="bold" text-anchor="middle" fill="#000" stroke="#000" stroke-width="0.22">40</text>
<text x="204.20" y="486.42" font-size="9.5" font-weight="bold" text-anchor="start" fill="#000" stroke="#000" stroke-width="0.22">(nM)</text>
<polyline points="101.50,491.80 101.50,499.10 200.20,499.10 200.20,491.80" stroke="#111" stroke-width="1.3" fill="none" stroke-linejoin="round"/>
<text x="140.30" y="508.95" font-size="8.2" font-weight="bold" text-anchor="start" fill="#000" stroke="#000" stroke-width="0.22">PDB u</text>
<text x="235.00" y="338.42" font-size="17.0" font-weight="bold" text-anchor="start" fill="#000">E</text>
<line x1="272.50" y1="343.80" x2="272.50" y2="468.30" stroke="#333" stroke-width="0.9"/>
<line x1="272.50" y1="468.30" x2="462.30" y2="468.30" stroke="#333" stroke-width="0.9"/>
<line x1="270.50" y1="466.80" x2="272.50" y2="466.80" stroke="#333" stroke-width="0.8"/>
<text x="265.40" y="469.25" font-size="6.8" font-weight="bold" text-anchor="end" fill="#000" stroke="#000" stroke-width="0.22">0</text>
<line x1="270.50" y1="442.20" x2="272.50" y2="442.20" stroke="#333" stroke-width="0.8"/>
<text x="265.40" y="444.65" font-size="6.8" font-weight="bold" text-anchor="end" fill="#000" stroke="#000" stroke-width="0.22">25</text>
<line x1="270.50" y1="417.60" x2="272.50" y2="417.60" stroke="#333" stroke-width="0.8"/>
<text x="265.40" y="420.05" font-size="6.8" font-weight="bold" text-anchor="end" fill="#000" stroke="#000" stroke-width="0.22">50</text>
<line x1="270.50" y1="393.00" x2="272.50" y2="393.00" stroke="#333" stroke-width="0.8"/>
<text x="265.40" y="395.45" font-size="6.8" font-weight="bold" text-anchor="end" fill="#000" stroke="#000" stroke-width="0.22">75</text>
<line x1="270.50" y1="368.40" x2="272.50" y2="368.40" stroke="#333" stroke-width="0.8"/>
<text x="265.40" y="370.85" font-size="6.8" font-weight="bold" text-anchor="end" fill="#000" stroke="#000" stroke-width="0.22">100</text>
<line x1="270.50" y1="343.80" x2="272.50" y2="343.80" stroke="#333" stroke-width="0.8"/>
<text x="265.40" y="346.25" font-size="6.8" font-weight="bold" text-anchor="end" fill="#000" stroke="#000" stroke-width="0.22">125</text>
<text x="244.60" y="408.00" font-size="8.0" font-weight="bold" text-anchor="middle" fill="#000" transform="rotate(-90 244.60 408.00)" stroke="#000" stroke-width="0.22">Cell viability (% of control)</text>
<rect x="276.40" y="368.40" width="5.00" height="99.90" fill="#fff" stroke="#707070" stroke-width="0.8"/>
<rect x="281.70" y="378.93" width="4.70" height="89.37" fill="#5c5c5c" stroke="#454545" stroke-width="0.6"/>
<line x1="289.60" y1="468.30" x2="289.60" y2="470.00" stroke="#333" stroke-width="0.8"/>
<text x="282.30" y="480.89" font-size="7.2" font-weight="bold" text-anchor="middle" fill="#000" stroke="#000" stroke-width="0.22">1</text>
<rect x="293.59" y="368.40" width="5.00" height="99.90" fill="#fff" stroke="#707070" stroke-width="0.8"/>
<rect x="298.89" y="399.79" width="4.70" height="68.51" fill="#5c5c5c" stroke="#454545" stroke-width="0.6"/>
<line x1="306.79" y1="468.30" x2="306.79" y2="470.00" stroke="#333" stroke-width="0.8"/>
<text x="299.49" y="480.89" font-size="7.2" font-weight="bold" text-anchor="middle" fill="#000" stroke="#000" stroke-width="0.22">2</text>
<rect x="310.78" y="368.40" width="5.00" height="99.90" fill="#fff" stroke="#707070" stroke-width="0.8"/>
<rect x="316.08" y="387.69" width="4.70" height="80.61" fill="#5c5c5c" stroke="#454545" stroke-width="0.6"/>
<line x1="323.98" y1="468.30" x2="323.98" y2="470.00" stroke="#333" stroke-width="0.8"/>
<text x="316.68" y="480.89" font-size="7.2" font-weight="bold" text-anchor="middle" fill="#000" stroke="#000" stroke-width="0.22">3</text>
<rect x="327.97" y="368.40" width="5.00" height="99.90" fill="#fff" stroke="#707070" stroke-width="0.8"/>
<rect x="333.27" y="389.66" width="4.70" height="78.64" fill="#5c5c5c" stroke="#454545" stroke-width="0.6"/>
<line x1="341.17" y1="468.30" x2="341.17" y2="470.00" stroke="#333" stroke-width="0.8"/>
<text x="333.87" y="480.89" font-size="7.2" font-weight="bold" text-anchor="middle" fill="#000" stroke="#000" stroke-width="0.22">4</text>
<rect x="345.16" y="368.40" width="5.00" height="99.90" fill="#fff" stroke="#707070" stroke-width="0.8"/>
<rect x="350.46" y="392.41" width="4.70" height="75.89" fill="#5c5c5c" stroke="#454545" stroke-width="0.6"/>
<line x1="358.36" y1="468.30" x2="358.36" y2="470.00" stroke="#333" stroke-width="0.8"/>
<text x="351.06" y="480.89" font-size="7.2" font-weight="bold" text-anchor="middle" fill="#000" stroke="#000" stroke-width="0.22">5</text>
<rect x="362.35" y="368.40" width="5.00" height="99.90" fill="#fff" stroke="#707070" stroke-width="0.8"/>
<rect x="367.65" y="403.73" width="4.70" height="64.57" fill="#5c5c5c" stroke="#454545" stroke-width="0.6"/>
<line x1="375.55" y1="468.30" x2="375.55" y2="470.00" stroke="#333" stroke-width="0.8"/>
<text x="368.25" y="480.89" font-size="7.2" font-weight="bold" text-anchor="middle" fill="#000" stroke="#000" stroke-width="0.22">6</text>
<rect x="379.54" y="368.40" width="5.00" height="99.90" fill="#fff" stroke="#707070" stroke-width="0.8"/>
<rect x="384.84" y="414.36" width="4.70" height="53.94" fill="#5c5c5c" stroke="#454545" stroke-width="0.6"/>
<line x1="392.74" y1="468.30" x2="392.74" y2="470.00" stroke="#333" stroke-width="0.8"/>
<text x="385.44" y="480.89" font-size="7.2" font-weight="bold" text-anchor="middle" fill="#000" stroke="#000" stroke-width="0.22">7</text>
<rect x="396.73" y="368.40" width="5.00" height="99.90" fill="#fff" stroke="#707070" stroke-width="0.8"/>
<rect x="402.03" y="407.08" width="4.70" height="61.22" fill="#5c5c5c" stroke="#454545" stroke-width="0.6"/>
<line x1="409.93" y1="468.30" x2="409.93" y2="470.00" stroke="#333" stroke-width="0.8"/>
<text x="402.63" y="480.89" font-size="7.2" font-weight="bold" text-anchor="middle" fill="#000" stroke="#000" stroke-width="0.22">8</text>
<rect x="413.92" y="368.40" width="5.00" height="99.90" fill="#fff" stroke="#707070" stroke-width="0.8"/>
<rect x="419.22" y="421.54" width="4.70" height="46.76" fill="#5c5c5c" stroke="#454545" stroke-width="0.6"/>
<line x1="427.12" y1="468.30" x2="427.12" y2="470.00" stroke="#333" stroke-width="0.8"/>
<text x="419.82" y="480.89" font-size="7.2" font-weight="bold" text-anchor="middle" fill="#000" stroke="#000" stroke-width="0.22">9</text>
<rect x="431.11" y="368.40" width="5.00" height="99.90" fill="#fff" stroke="#707070" stroke-width="0.8"/>
<rect x="436.41" y="412.29" width="4.70" height="56.01" fill="#5c5c5c" stroke="#454545" stroke-width="0.6"/>
<line x1="444.31" y1="468.30" x2="444.31" y2="470.00" stroke="#333" stroke-width="0.8"/>
<text x="437.01" y="480.89" font-size="7.2" font-weight="bold" text-anchor="middle" fill="#000" stroke="#000" stroke-width="0.22">10</text>
<rect x="448.30" y="368.40" width="5.00" height="99.90" fill="#fff" stroke="#707070" stroke-width="0.8"/>
<rect x="453.60" y="393.50" width="4.70" height="74.80" fill="#5c5c5c" stroke="#454545" stroke-width="0.6"/>
<line x1="461.50" y1="468.30" x2="461.50" y2="470.00" stroke="#333" stroke-width="0.8"/>
<text x="454.20" y="480.89" font-size="7.2" font-weight="bold" text-anchor="middle" fill="#000" stroke="#000" stroke-width="0.22">11</text>
<text x="255.00" y="481.32" font-size="7.0" font-weight="bold" text-anchor="start" fill="#000" stroke="#000" stroke-width="0.22">PT#</text>
<rect x="350.60" y="336.40" width="3.80" height="3.80" fill="#fff" stroke="#555" stroke-width="0.8"/>
<rect x="350.20" y="348.70" width="4.60" height="4.60" fill="#555" stroke="none" stroke-width="1"/>
<text x="356.70" y="340.96" font-size="7.4" font-weight="bold" text-anchor="start" fill="#000" stroke="#000" stroke-width="0.22">DMSO</text>
<text x="356.70" y="353.76" font-size="7.4" font-weight="bold" text-anchor="start" fill="#000" stroke="#000" stroke-width="0.22">PDBu</text>
</svg>
</body></html>
